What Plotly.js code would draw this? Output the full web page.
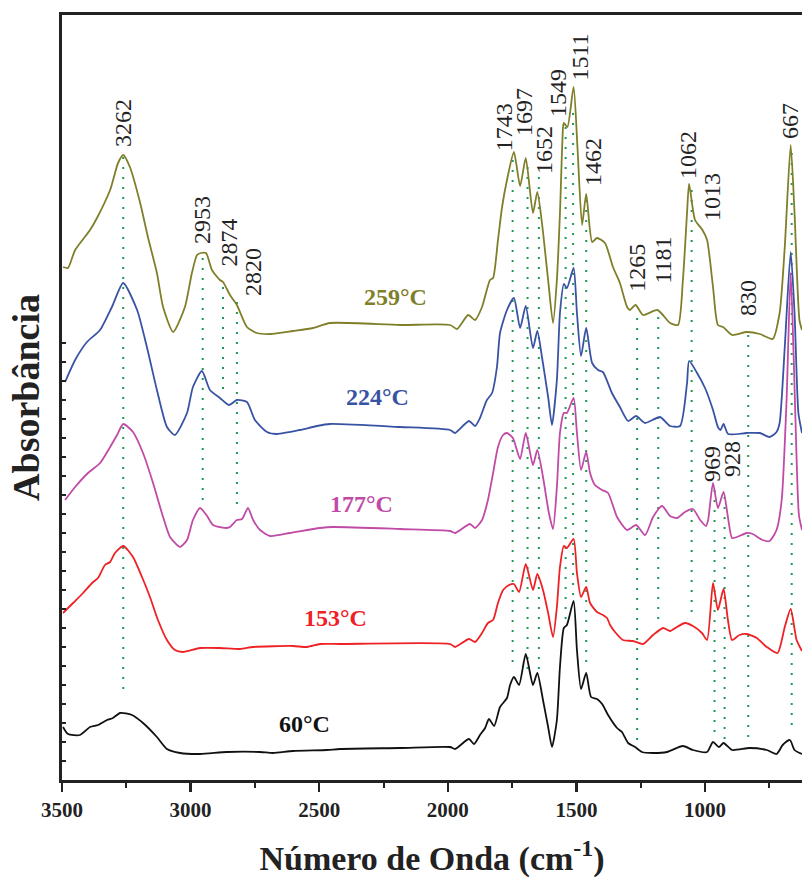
<!DOCTYPE html>
<html>
<head>
<meta charset="utf-8">
<script src="https://cdn.plot.ly/plotly-3.0.1.min.js"></script>
<style>html,body{margin:0;padding:0;background:#fff;overflow:hidden}</style>
</head>
<body>
<div id="chart" style="width:802px;height:878px"></div>
<script>
// ---- Data (wavenumber cm-1, absorbance in arbitrary stacked units) ----
const wn259 = [3496,3477,3449,3391,3364,3313,3282,3262,3236,3197,3166,3131,3107,3068,3022,2995,2975,2960,2940,2917,2886,2874,2847,2820,2781,2742,2691,2602,2524,2458,2186,1991,1964,1921,1894,1867,1836,1824,1805,1789,1770,1743,1719,1697,1669,1652,1634,1610,1591,1576,1564,1552,1549,1535,1511,1496,1478,1462,1439,1420,1389,1358,1331,1303,1292,1270,1241,1185,1136,1105,1086,1070,1062,1039,1010,992,969,950,930,895,838,787,737,710,690,667,652,633,623];
const ab259 = [513,512,530,550,562,590,617,625,613,578,543,507,473,448,473,507,525,527,527,510,500,498,485,475,453,447,446,449,452,457,455,455,451,465,460,473,500,502,540,573,600,628,594,622,567,588,557,500,457,500,567,653,657,653,693,633,555,586,538,542,537,513,497,473,470,475,465,470,457,455,500,567,596,560,550,540,493,455,453,445,448,446,441,467,533,635,567,460,450];

const wn224 = [3488,3449,3403,3352,3306,3262,3208,3170,3131,3092,3061,3014,2991,2956,2925,2886,2851,2820,2781,2750,2703,2664,2575,2509,2458,2186,1991,1972,1918,1894,1875,1848,1828,1809,1797,1770,1743,1719,1697,1669,1652,1634,1610,1595,1576,1564,1549,1537,1511,1498,1482,1462,1439,1416,1397,1362,1331,1299,1268,1233,1175,1136,1097,1070,1062,1031,1000,969,950,940,928,910,838,787,749,722,710,690,667,652,637,623];
const ab224 = [398,420,438,450,473,497,470,433,390,353,345,367,393,409,390,382,375,380,378,360,348,346,350,354,356,353,350,347,359,354,362,380,387,413,447,470,482,452,474,432,449,423,383,355,400,467,496,492,512,467,424,452,417,410,408,387,373,359,364,357,363,354,354,397,419,407,392,370,353,350,356,346,347,347,343,348,357,433,528,467,367,347];

const wn177 = [3488,3449,3399,3352,3313,3286,3262,3224,3185,3146,3107,3080,3041,3014,2991,2963,2936,2913,2859,2847,2820,2800,2777,2757,2730,2691,2614,2497,2446,2186,1991,1972,1914,1894,1867,1844,1824,1805,1785,1770,1747,1719,1697,1669,1652,1630,1607,1591,1576,1564,1549,1537,1511,1498,1482,1462,1447,1428,1400,1377,1342,1303,1268,1233,1202,1167,1136,1109,1078,1047,1019,996,988,969,950,928,911,895,876,838,815,776,749,722,702,683,667,655,645,635,623];
const ab177 = [280,293,307,317,333,345,356,348,327,297,263,243,233,240,260,272,264,255,252,253,260,261,272,260,250,244,247,252,253,251,249,247,256,252,260,280,307,333,345,347,342,321,347,315,330,303,267,251,293,347,367,367,382,347,310,328,307,295,290,287,263,250,255,245,263,274,264,262,268,271,260,254,260,297,272,288,263,242,243,247,246,240,239,250,280,380,507,420,330,265,250];

const wn153 = [3496,3457,3418,3383,3360,3333,3313,3294,3262,3224,3189,3158,3127,3092,3061,3030,2963,2886,2808,2757,2602,2547,2497,2419,1991,1972,1918,1894,1867,1844,1824,1805,1785,1762,1743,1723,1697,1669,1652,1630,1610,1591,1576,1564,1549,1537,1511,1498,1482,1462,1447,1420,1397,1381,1369,1350,1319,1280,1241,1202,1163,1136,1109,1078,1047,1012,992,969,950,928,911,895,866,838,799,760,718,690,667,644,623];
const ab153 = [167,177,187,197,202,215,218,227,234,223,203,183,160,140,130,128,132,132,131,133,134,133,136,136,136,133,141,138,147,157,160,177,190,195,196,188,216,190,206,190,167,143,173,213,234,232,241,207,183,193,177,168,165,162,155,148,140,139,136,145,152,149,153,157,154,147,140,197,170,191,160,140,145,146,142,133,127,153,171,140,129];

const wn60 = [3496,3477,3430,3391,3360,3325,3302,3274,3228,3185,3131,3092,3041,2963,2859,2730,2680,2602,2470,2419,2186,1991,1972,1918,1898,1875,1855,1840,1820,1797,1770,1758,1743,1723,1697,1669,1652,1630,1610,1595,1576,1564,1549,1537,1511,1498,1482,1462,1443,1420,1400,1377,1342,1323,1299,1272,1245,1202,1148,1086,1047,992,969,946,928,895,827,760,722,698,670,652,623];
const ab60 = [53,46,45,53,55,60,62,67,65,57,43,31,27,26,28,28,27,29,30,31,32,33,31,41,36,45,52,61,54,73,82,95,103,95,126,95,107,80,53,33,60,113,152,155,179,130,91,107,83,81,76,65,52,48,37,33,28,27,28,34,30,28,38,33,37,30,32,30,26,35,40,30,26];

const seriesNames = ["259°C","224°C","177°C","153°C","60°C"];
const seriesColors = ["#7f7f2a","#3953a4","#c04ba6","#ee2124","#111111"];
const seriesWn = [wn259, wn224, wn177, wn153, wn60];
const seriesAb = [ab259, ab224, ab177, ab153, ab60];
const nameWn = [2205, 2275, 2334, 2435, 2559];
const nameAb = [483, 383, 276, 162, 56];

// peak markers (dotted guides)
const guideWn  = [3262,2953,2874,2820,1748,1690,1646,1542,1513,1462,1264,1182,1052,963,924,832,663];
const guideTop = [623,522,493,478,620,613,603,653,667,580,462,463,590,290,283,445,627];
const guideBot = [83,273,383,273,113,110,110,157,183,110,40,158,167,43,38,37,50];

// peak labels
const peakText = ["3262","2953","2874","2820","1743","1697","1652","1549","1511","1462","1265","1181","1062","1013","830","667","969","928"];
const peakLabWn = [3263,2956,2849,2757,1781,1704,1626,1572,1490,1436,1265,1167,1066,973,833,670,973,895];
const peakLabAb = [632,535,513,483,628,643,605,662,698,593,487,495,600,558,463,640,297,302];

const yTickVals = [0,19,38,57,76,95,114,133,152,171,190,209,228,247,266,285,304,323,342,361,380,399,418,437];

const SERIF = "Liberation Serif, Times New Roman, serif";

const traces = [];
// guides
const gx = [], gy = [];
for (let i = 0; i < guideWn.length; i++) {
  gx.push(guideWn[i], guideWn[i], null);
  gy.push(guideTop[i], guideBot[i], null);
}
traces.push({x: gx, y: gy, mode: "lines", hoverinfo: "skip",
  line: {color: "#1f9a55", width: 2, dash: "2px,8px"}});
for (let s = 0; s < seriesNames.length; s++) {
  traces.push({x: seriesWn[s], y: seriesAb[s], mode: "lines", name: seriesNames[s],
    line: {color: seriesColors[s], width: 1.8, shape: "spline", smoothing: 0.6}});
}

const annotations = [];
for (let i = 0; i < peakText.length; i++) {
  annotations.push({x: peakLabWn[i], y: peakLabAb[i], text: peakText[i], textangle: -90,
    xanchor: "center", yanchor: "bottom", showarrow: false, borderpad: 0,
    font: {family: SERIF, size: 24, color: "#222"}});
}
for (let s = 0; s < seriesNames.length; s++) {
  annotations.push({x: nameWn[s], y: nameAb[s], text: "<b>" + seriesNames[s] + "</b>",
    xanchor: "center", yanchor: "middle", showarrow: false,
    font: {family: SERIF, size: 24, color: seriesColors[s]}});
}

const layout = {
  width: 802, height: 878,
  margin: {l: 62, r: 0, t: 15, b: 98},
  paper_bgcolor: "#fff", plot_bgcolor: "#fff",
  showlegend: false,
  xaxis: {
    range: [3500, 623], tick0: 0, dtick: 500,
    showgrid: false, zeroline: false,
    showline: true, linecolor: "#222", linewidth: 3, mirror: true,
    ticks: "outside", ticklen: 9, tickwidth: 2.5, tickcolor: "#222",
    minor: {dtick: 250, ticks: "outside", ticklen: 5, tickwidth: 2, tickcolor: "#222"},
    tickfont: {family: SERIF, size: 21, color: "#222", weight: "bold"},
    title: {text: "<b>Número de Onda (cm<sup>-1</sup>)</b>", standoff: 28,
      font: {family: SERIF, size: 34, color: "#222"}},
    automargin: false
  },
  yaxis: {
    range: [0, 765], showgrid: false, zeroline: false,
    showline: true, linecolor: "#222", linewidth: 3,
    tickvals: yTickVals, ticks: "inside", ticklen: 4, tickwidth: 1.5, tickcolor: "#222",
    showticklabels: false,
    title: {text: "<b>Absorbância</b>", standoff: 8,
      font: {family: SERIF, size: 38, color: "#222"}},
    automargin: false
  },
  annotations: annotations
};

Plotly.newPlot("chart", traces, layout, {displayModeBar: false, staticPlot: true});
</script>
</body>
</html>
